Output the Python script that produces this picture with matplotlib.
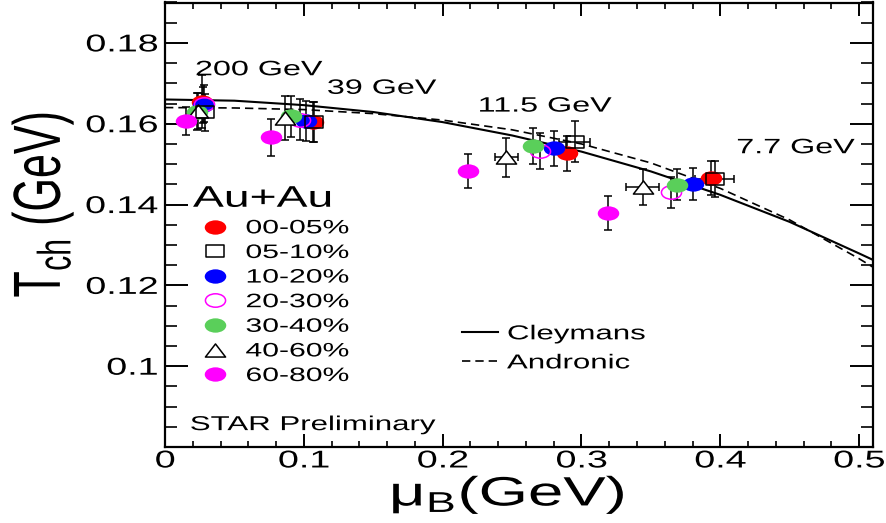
import numpy as np
import matplotlib
matplotlib.use('Agg')
import matplotlib.pyplot as plt
from matplotlib.lines import Line2D
from matplotlib.path import Path
from matplotlib.patheffects import AbstractPathEffect
from matplotlib.transforms import Affine2D
from matplotlib.ticker import MultipleLocator

plt.rcParams['font.family'] = ['Liberation Sans', 'DejaVu Sans']
plt.rcParams['mathtext.fontset'] = 'custom'
plt.rcParams['mathtext.rm'] = 'Liberation Sans'
plt.rcParams['mathtext.it'] = 'Liberation Sans:italic'
plt.rcParams['mathtext.bf'] = 'Liberation Sans:bold'

# freeze-out points, one entry per beam energy: 200, 39, 11.5, 7.7 GeV
energies = ['200 GeV', '39 GeV', '11.5 GeV', '7.7 GeV']

mu_00_05 = [0.0264, 0.1065, 0.2895, 0.3933]
T_00_05 = [0.1655, 0.1605, 0.1527, 0.1465]
err_00_05 = [0.0066, 0.0050, 0.0043, 0.0042]

mu_05_10 = [0.0290, 0.1075, 0.2950, 0.3960]
T_05_10 = [0.1628, 0.1605, 0.1556, 0.1463]
err_05_10 = [0.0045, 0.0050, 0.0050, 0.0045]
xerr_05_10 = [0.0, 0.0, 0.011, 0.014]

mu_10_20 = [0.0275, 0.1019, 0.2799, 0.3806]
T_10_20 = [0.1647, 0.1607, 0.1539, 0.1451]
err_10_20 = [0.0045, 0.0050, 0.0044, 0.0040]

mu_20_30 = [0.0280, 0.0970, 0.2698, 0.3645]
T_20_30 = [0.1650, 0.1610, 0.1533, 0.1430]
err_20_30 = [0.0045, 0.0050, 0.0044, 0.0038]

mu_30_40 = [0.0228, 0.0911, 0.2650, 0.3686]
T_30_40 = [0.1630, 0.1618, 0.1545, 0.1449]
err_30_40 = [0.0045, 0.0050, 0.0045, 0.0038]

mu_40_60 = [0.0237, 0.0863, 0.2458, 0.3441]
T_40_60 = [0.1632, 0.1614, 0.1517, 0.1444]
err_40_60 = [0.0045, 0.0055, 0.0048, 0.0045]
xerr_40_60 = [0.0, 0.0, 0.0084, 0.012]

mu_60_80 = [0.0151, 0.0760, 0.2182, 0.3190]
T_60_80 = [0.1607, 0.1566, 0.1483, 0.1379]
err_60_80 = [0.0035, 0.0045, 0.0041, 0.0042]

# model curves
mu_curve = [0.0, 0.05, 0.1, 0.15, 0.2, 0.25, 0.3, 0.35, 0.4, 0.45, 0.5, 0.51]
T_cleymans = [0.1660, 0.1657, 0.1646, 0.1629, 0.1604, 0.1571, 0.1531, 0.1482, 0.1424, 0.1357, 0.1279, 0.1263]
T_andronic = [0.1640, 0.1639, 0.1635, 0.1625, 0.1609, 0.1585, 0.1550, 0.1503, 0.1440, 0.1362, 0.1266, 0.1245]

label_mu = [0.0216, 0.1166, 0.2252, 0.4115]
label_T = [0.1720, 0.1674, 0.1630, 0.1527]

WIDE = 1.55


class Stretch(AbstractPathEffect):
    '''Scale glyph outlines about an anchor on the text path (ROOT-style wide text).'''

    def __init__(self, sx=WIDE, sy=1.0, anchor='left'):
        super().__init__()
        self.sx, self.sy, self.anchor = sx, sy, anchor

    def draw_path(self, renderer, gc, tpath, affine, rgbFace=None):
        xs = tpath.vertices[:, 0]
        if len(xs) == 0:
            return
        x0 = {'left': 0.0, 'center': 0.5 * (xs.min() + xs.max()), 'right': xs.max()}[self.anchor]
        t = Affine2D().translate(-x0, 0).scale(self.sx, self.sy).translate(x0, 0)
        renderer.draw_path(gc, tpath, t + affine, rgbFace)


# wide markers: ellipse, open triangle, open box
ellipse = Path.unit_circle().transformed(Affine2D().scale(1.5, 1.0))
triangle = Path([(-1.0, -0.65), (1.0, -0.65), (0.0, 0.65), (-1.0, -0.65)],
                [Path.MOVETO, Path.LINETO, Path.LINETO, Path.CLOSEPOLY])
box = Path([(-0.7, -0.5), (0.7, -0.5), (0.7, 0.5), (-0.7, 0.5), (-0.7, -0.5)],
           [Path.MOVETO, Path.LINETO, Path.LINETO, Path.LINETO, Path.CLOSEPOLY])

green = '#5acf5a'
styles = {
    '00-05%': dict(marker=ellipse, ms=15.5, mfc='red', mec='red', mew=0),
    '05-10%': dict(marker=box, ms=12.5, mfc='none', mec='k', mew=1.1),
    '10-20%': dict(marker=ellipse, ms=15.5, mfc='blue', mec='blue', mew=0),
    '20-30%': dict(marker=ellipse, ms=14.5, mfc='none', mec='magenta', mew=1.1),
    '30-40%': dict(marker=ellipse, ms=15.5, mfc=green, mec=green, mew=0),
    '40-60%': dict(marker=triangle, ms=14.5, mfc='white', mec='k', mew=1.1),
    '60-80%': dict(marker=ellipse, ms=15.5, mfc='magenta', mec='magenta', mew=0),
}

series = [
    ('00-05%', mu_00_05, T_00_05, err_00_05, None, 3.0),
    ('10-20%', mu_10_20, T_10_20, err_10_20, None, 3.1),
    ('20-30%', mu_20_30, T_20_30, err_20_30, None, 3.2),
    ('30-40%', mu_30_40, T_30_40, err_30_40, None, 3.3),
    ('40-60%', mu_40_60, T_40_60, err_40_60, xerr_40_60, 3.4),
    ('05-10%', mu_05_10, T_05_10, err_05_10, xerr_05_10, 3.5),
    ('60-80%', mu_60_80, T_60_80, err_60_80, None, 3.6),
]

fig = plt.figure(figsize=(8.87, 5.23), dpi=100)
ax = fig.add_axes([165 / 887, 76 / 523, 708 / 887, 444.5 / 523])

l_cley, = ax.plot(mu_curve, T_cleymans, color='k', lw=1.5, zorder=1.5)
l_andr, = ax.plot(mu_curve, T_andronic, color='k', lw=1.2, dashes=(5, 3), zorder=1.5)

for name, mu, T, err, xerr, z in series:
    ax.errorbar(mu, T, yerr=err, xerr=xerr, fmt='none', ecolor='k',
                elinewidth=1.1, capsize=2.9, capthick=1.1, zorder=2)
    ax.plot(mu, T, ls='none', zorder=z, **styles[name])

for txt, x, y in zip(energies, label_mu, label_T):
    ax.text(x, y, txt, fontsize=15, ha='left', va='baseline',
            path_effects=[Stretch(anchor='left')])

ax.set_xlim(0, 0.51)
ax.set_ylim(0.08, 0.19)
ax.set_xticks([0, 0.1, 0.2, 0.3, 0.4, 0.5])
ax.set_xticklabels(['0', '0.1', '0.2', '0.3', '0.4', '0.5'])
ax.set_yticks([0.1, 0.12, 0.14, 0.16, 0.18])
ax.set_yticklabels(['0.1', '0.12', '0.14', '0.16', '0.18'])
ax.xaxis.set_minor_locator(MultipleLocator(0.02))
ax.yaxis.set_minor_locator(MultipleLocator(0.005))
ax.tick_params(which='both', direction='in', top=True, right=True, labelsize=17.5)
ax.tick_params(axis='x', which='major', length=9.4, width=1.4, pad=2.5)
ax.tick_params(axis='x', which='minor', length=4.5, width=1.2)
ax.tick_params(axis='y', which='major', length=16.5, width=1.4, pad=5)
ax.tick_params(axis='y', which='minor', length=8.5, width=1.2)
for sp in ax.spines.values():
    sp.set_linewidth(1.6)

for lab in ax.get_xticklabels():
    lab.set_path_effects([Stretch(anchor='center')])
for lab in ax.get_yticklabels():
    lab.set_path_effects([Stretch(anchor='right')])

ax.set_xlabel(r'μ$_{\mathrm{B}}$(GeV)', fontsize=29.5,
              path_effects=[Stretch(anchor='center')])
ax.xaxis.set_label_coords(0.483, -0.06)
ax.set_ylabel(r'T$_{\mathrm{ch}}$ (GeV)', fontsize=31, va='baseline',
              path_effects=[Stretch(sx=1.0, sy=WIDE)])
ax.yaxis.set_label_coords(-0.148, 0.545)

# centrality legend
order = ['00-05%', '05-10%', '10-20%', '20-30%', '30-40%', '40-60%', '60-80%']
handles = [Line2D([], [], ls='none', **styles[k]) for k in order]
leg = ax.legend(handles, order, title='Au+Au', loc='upper left',
                bbox_to_anchor=(0.0395, 0.59), frameon=False, fontsize=14,
                title_fontsize=21.5, alignment='left', borderpad=0,
                borderaxespad=0, handlelength=2.3, handletextpad=0.4,
                labelspacing=0.36)
for t in leg.get_texts():
    t.set_path_effects([Stretch(anchor='left')])
leg.get_title().set_path_effects([Stretch(anchor='left')])
ax.add_artist(leg)

leg2 = ax.legend([l_cley, l_andr], ['Cleymans', 'Andronic'], loc='upper left',
                 bbox_to_anchor=(0.419, 0.276), frameon=False, fontsize=14.5,
                 borderpad=0, borderaxespad=0, handlelength=1.8,
                 handletextpad=0.45, labelspacing=0.5)
for t in leg2.get_texts():
    t.set_path_effects([Stretch(anchor='left')])

ax.text(0.035, 0.038, 'STAR Preliminary', transform=ax.transAxes, fontsize=14.5,
        ha='left', va='baseline', path_effects=[Stretch(anchor='left')])

fig.savefig('out.png', dpi=100)
